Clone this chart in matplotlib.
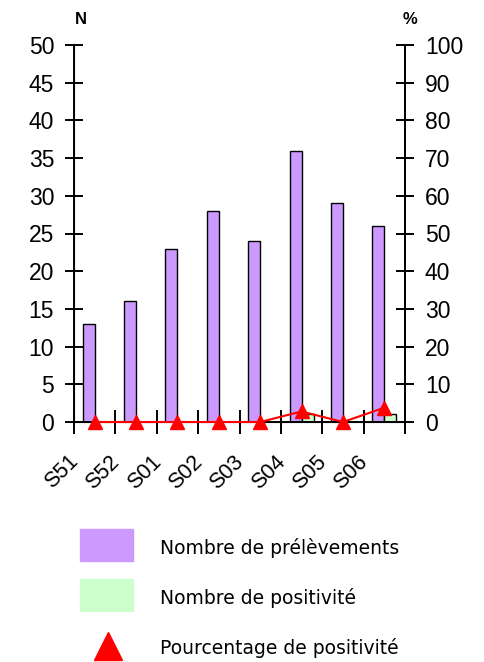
import numpy as np
import matplotlib.pyplot as plt
from matplotlib.patches import Rectangle
from matplotlib.transforms import ScaledTranslation

plt.rcParams['font.family'] = ['Liberation Sans', 'DejaVu Sans']

weeks = ['S51', 'S52', 'S01', 'S02', 'S03', 'S04', 'S05', 'S06']
prelevements = [13, 16, 23, 28, 24, 36, 29, 26]
positifs = [0, 0, 0, 0, 0, 1, 0, 1]
pct_positifs = [0, 0, 0, 0, 0, 2.8, 0, 3.8]

purple = '#CC99FF'
green = '#CCFFCC'
red = '#FF0000'

fig = plt.figure(figsize=(4.84, 6.62), dpi=100)
ax = fig.add_axes([74 / 484, 1 - 422 / 662, 331 / 484, 377 / 662])

x = np.arange(len(weeks))
w = 0.29
ax.bar(x - w / 2, prelevements, width=w, color=purple, edgecolor='black', linewidth=1.0)
ax.bar(x + w / 2, positifs, width=w, color=green, edgecolor='black', linewidth=1.0)

ax.set_yticks(range(0, 51, 5))
ax.tick_params(axis='y', direction='inout', length=12.5, width=1.4, labelsize=16.5, pad=8)

# week labels, shifted left like the original
ax.set_xticks(x, labels=weeks)
ax.tick_params(axis='x', length=0, pad=21, labelsize=15.5)
shift = ScaledTranslation(-0.27, 0, fig.dpi_scale_trans)
for lbl in ax.get_xticklabels():
    lbl.set_rotation(45)
    lbl.set_ha('right')
    lbl.set_rotation_mode('anchor')
    lbl.set_transform(lbl.get_transform() + shift)

# category boundary marks crossing the x axis
bounds = np.arange(-0.5, len(weeks))
ax.plot(bounds, np.zeros_like(bounds), ls='none', marker='|', markersize=17,
        markeredgewidth=1.4, color='black', transform=ax.get_xaxis_transform(),
        clip_on=False, zorder=1)

ax.set_xlim(-0.5, len(weeks) - 0.5)
ax.set_ylim(0, 50)

ax.spines['top'].set_visible(False)
for s in ['left', 'right', 'bottom']:
    ax.spines[s].set_linewidth(1.4)

ax2 = ax.twinx()
ax2.set_ylim(0, 100)
ax2.set_yticks(range(0, 101, 10))
ax2.tick_params(axis='y', direction='inout', length=12.5, width=1.4, labelsize=16.5, pad=8)
ax2.spines['top'].set_visible(False)
ax2.spines['right'].set_linewidth(1.4)
ax2.plot(x, pct_positifs, color=red, linewidth=1.5, marker='^', markersize=10,
         markeredgecolor=red, clip_on=False, zorder=5)

fig.text(81 / 484, 1 - 20 / 662, 'N', fontsize=12, fontweight='bold', ha='center', va='center')
fig.text(410 / 484, 1 - 20 / 662, '%', fontsize=12, fontweight='bold', ha='center', va='center')

# legend
leg = fig.add_axes([0, 0, 1, 1], facecolor='none')
leg.set_xlim(0, 484)
leg.set_ylim(662, 0)
leg.axis('off')
leg.add_patch(Rectangle((80, 529), 53, 32, color=purple))
leg.add_patch(Rectangle((80, 579), 53, 32, color=green))
leg.plot([108], [646], marker='^', markersize=20, color=red)
labels = ['Nombre de prélèvements', 'Nombre de positivité', 'Pourcentage de positivité']
for i, lab in enumerate(labels):
    leg.text(160, 548 + 50 * i, lab, fontsize=13.5, va='center', ha='left', family='DejaVu Sans')

fig.savefig('out.png', dpi=100)
